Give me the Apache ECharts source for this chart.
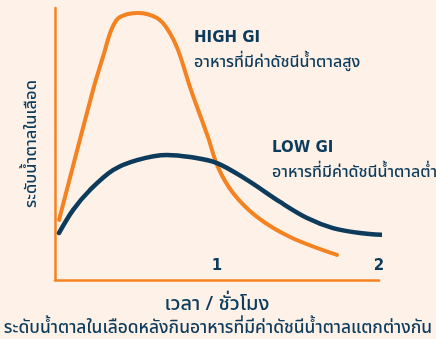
<!DOCTYPE html>
<html>
<head>
<meta charset="utf-8">
<script src="https://cdn.jsdelivr.net/npm/echarts@6/dist/echarts.min.js"></script>
<style>
  html, body { margin: 0; padding: 0; background: #fdf1e8; }
  #chart { width: 436px; height: 339px; }
</style>
</head>
<body>
<div id="chart"></div>
<script>
// Blood sugar level over time (hours) for high-GI and low-GI foods
const xTicks = [1, 2];
const highGI = [
  [0.025, 22.1], [0.235, 69.9], [0.296, 82.0], [0.352, 92.6], [0.401, 96.7],
  [0.512, 98.2], [0.630, 96.3], [0.698, 91.9], [0.759, 84.6], [0.833, 71.0],
  [0.877, 63.6], [0.944, 52.6], [1.006, 41.5], [1.099, 32.0], [1.247, 23.2],
  [1.451, 15.8], [1.741, 9.2]
];
const lowGI = [
  [0.025, 17.3], [0.111, 25.7], [0.216, 33.1], [0.358, 40.4], [0.506, 44.1],
  [0.691, 46.0], [0.833, 45.2], [1.000, 43.0], [1.185, 36.8], [1.389, 28.7],
  [1.556, 22.8], [1.716, 19.1], [1.883, 17.3], [2.056, 16.5]
];

const NAVY = '#0d3b5b';
const ORANGE = '#f58220';
const THAI = '"Noto Sans Thai", "Noto Sans", sans-serif';
const LATIN = '"DejaVu Sans", sans-serif';

const chart = echarts.init(document.getElementById('chart'));
chart.setOption({
  backgroundColor: '#fdf1e8',
  animation: false,
  textStyle: { fontFamily: THAI },
  grid: { left: 55, right: 57, top: 8, bottom: 59 },
  xAxis: {
    type: 'value', min: 0, max: 2,
    name: 'เวลา / ชั่วโมง',
    nameLocation: 'middle', nameGap: 16,
    nameTextStyle: { color: NAVY, fontSize: 20, fontWeight: 500, fontFamily: THAI },
    axisLine: { show: true, lineStyle: { color: ORANGE, width: 2.5 } },
    axisTick: { show: false },
    splitLine: { show: false },
    axisLabel: {
      inside: true, margin: 6,
      customValues: xTicks,
      color: NAVY, fontSize: 15, fontWeight: 'bold', fontFamily: LATIN,
      formatter: v => String(v)
    }
  },
  yAxis: {
    type: 'value', min: 0, max: 100,
    name: 'ระดับน้ำตาลในเลือด',
    nameLocation: 'middle', nameGap: 14, nameRotate: 90,
    nameTextStyle: { color: NAVY, fontSize: 16.5, fontWeight: 500, fontFamily: THAI },
    axisLine: { show: true, lineStyle: { color: ORANGE, width: 2.5 } },
    axisTick: { show: false },
    axisLabel: { show: false },
    splitLine: { show: false }
  },
  title: {
    text: 'ระดับน้ำตาลในเลือดหลังกินอาหารที่มีค่าดัชนีน้ำตาลแตกต่างกัน',
    left: 'center', top: 321,
    padding: 0,
    textStyle: { color: NAVY, fontSize: 17.4, fontWeight: 500, fontFamily: THAI }
  },
  graphic: [
    { type: 'text', left: 194, top: 31, style: { text: 'HIGH GI', fill: NAVY, font: 'bold 15px ' + LATIN } },
    { type: 'text', left: 194, top: 56, style: { text: 'อาหารที่มีค่าดัชนีน้ำตาลสูง', fill: NAVY, font: '500 16px ' + THAI } },
    { type: 'text', left: 272, top: 141, style: { text: 'LOW GI', fill: NAVY, font: 'bold 15px ' + LATIN } },
    { type: 'text', left: 272, top: 166, style: { text: 'อาหารที่มีค่าดัชนีน้ำตาลต่ำ', fill: NAVY, font: '500 16px ' + THAI } }
  ],
  series: [
    {
      name: 'HIGH GI', type: 'line', data: highGI, smooth: 0.35,
      showSymbol: false, clip: false,
      lineStyle: { color: ORANGE, width: 4, cap: 'round' }
    },
    {
      name: 'LOW GI', type: 'line', data: lowGI, smooth: 0.35,
      showSymbol: false, clip: false,
      lineStyle: { color: NAVY, width: 4.5, cap: 'round' }
    }
  ]
});
</script>
</body>
</html>
